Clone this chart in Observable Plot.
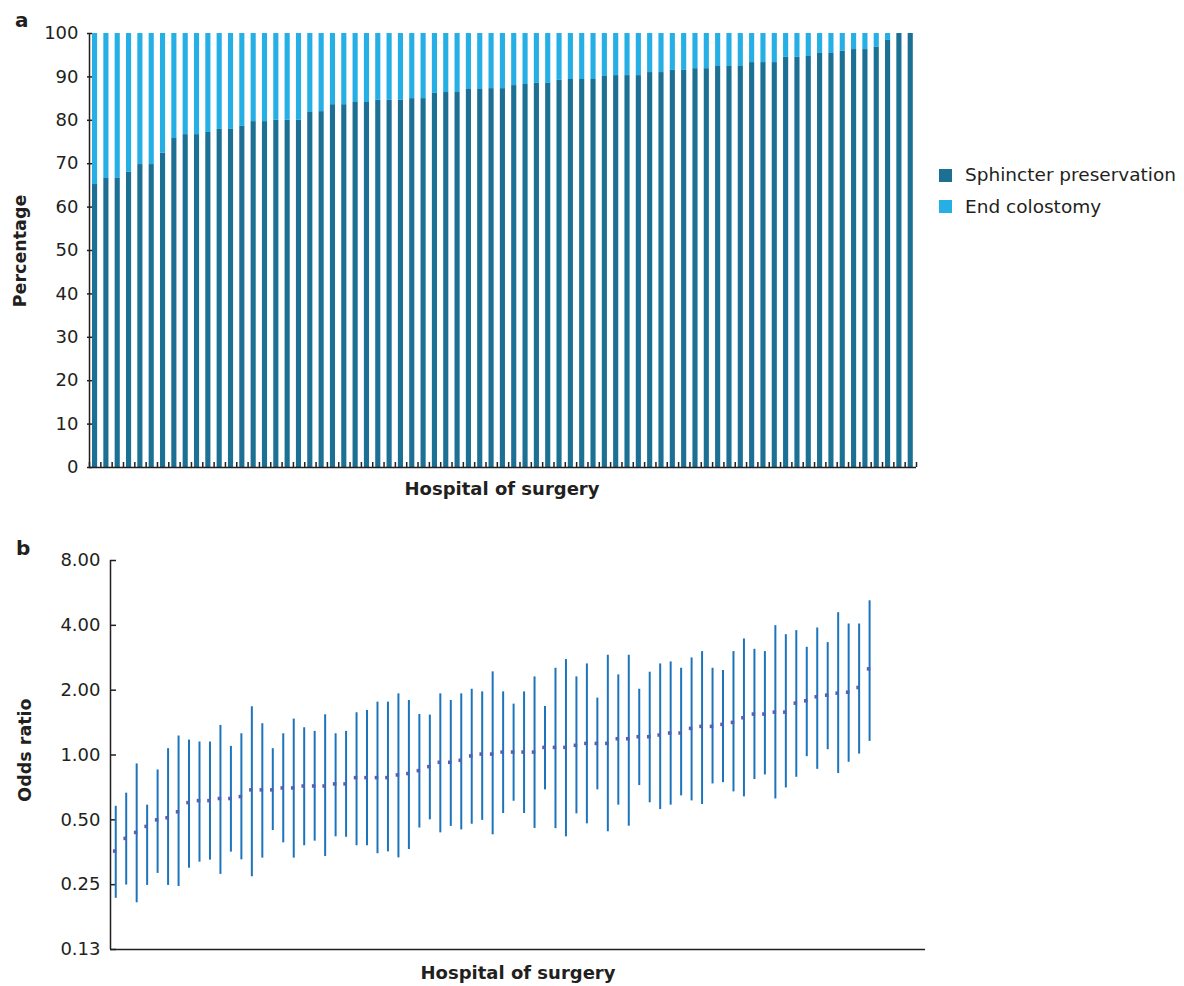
<!DOCTYPE html>
<html>
<head>
<meta charset="utf-8">
<script src="https://cdn.jsdelivr.net/npm/d3@7"></script>
<script src="https://cdn.jsdelivr.net/npm/@observablehq/plot@0.6"></script>
<style>
  body { margin: 0; background: #fff; }
  #wrap { position: relative; width: 1184px; height: 986px; font-family: "DejaVu Sans", sans-serif; color: #231f20; }
  #panelA, #panelB { position: absolute; left: 0; }
  #panelA { top: 0; }
  #panelB { top: 540px; }
  #overlay { position: absolute; left: 0; top: 0; pointer-events: none; }
  #overlay text { font-family: "DejaVu Sans", sans-serif; fill: #231f20; }
</style>
</head>
<body>
<div id="wrap">
  <div id="panelA"></div>
  <div id="panelB"></div>
  <svg id="overlay" width="1184" height="986">
    <text x="15" y="27" font-size="20" font-weight="bold">a</text>
    <text transform="translate(26,251) rotate(-90)" text-anchor="middle" font-size="17.5" font-weight="bold">Percentage</text>
    <text x="502" y="495" text-anchor="middle" font-size="18" font-weight="bold">Hospital of surgery</text>
    <rect x="939" y="169" width="13" height="13" fill="#1b7094"></rect>
    <text x="965" y="181" font-size="18.5">Sphincter preservation</text>
    <rect x="939" y="200" width="13" height="13" fill="#25afe4"></rect>
    <text x="965" y="213" font-size="18.5">End colostomy</text>
    <text x="16" y="555" font-size="20" font-weight="bold">b</text>
    <text transform="translate(31,750) rotate(-90)" text-anchor="middle" font-size="17.5" font-weight="bold">Odds ratio</text>
    <text x="518" y="979" text-anchor="middle" font-size="18" font-weight="bold">Hospital of surgery</text>
  </svg>
</div>
<script>
// ---------- Panel a data: percentage of each operation type per hospital ----------
const sphincter = [65.2, 66.6, 66.6, 68.0, 69.8, 69.8, 72.4, 75.8, 76.7, 76.7,
  77.2, 77.9, 77.9, 78.6, 79.7, 79.7, 80.0, 80.0, 80.0, 81.8,
  82.0, 83.6, 83.6, 84.1, 84.1, 84.6, 84.6, 84.6, 85.0, 85.0,
  86.2, 86.4, 86.4, 87.1, 87.1, 87.3, 87.3, 88.0, 88.25, 88.5,
  88.5, 89.2, 89.4, 89.4, 89.4, 90.1, 90.3, 90.3, 90.3, 91.0,
  91.0, 91.5, 91.5, 91.9, 91.9, 92.4, 92.4, 92.4, 93.3, 93.3,
  93.3, 94.5, 94.5, 94.7, 95.4, 95.4, 95.9, 96.3, 96.3, 96.8,
  98.4, 100, 100];
const colostomy = [34.8, 33.4, 33.4, 32.0, 30.2, 30.2, 27.6, 24.2, 23.3, 23.3,
  22.8, 22.1, 22.1, 21.4, 20.3, 20.3, 20.0, 20.0, 20.0, 18.2,
  18.0, 16.4, 16.4, 15.9, 15.9, 15.4, 15.4, 15.4, 15.0, 15.0,
  13.8, 13.6, 13.6, 12.9, 12.9, 12.7, 12.7, 12.0, 11.75, 11.5,
  11.5, 10.8, 10.6, 10.6, 10.6, 9.9, 9.7, 9.7, 9.7, 9.0,
  9.0, 8.5, 8.5, 8.1, 8.1, 7.6, 7.6, 7.6, 6.7, 6.7,
  6.7, 5.5, 5.5, 5.3, 4.6, 4.6, 4.1, 3.7, 3.7, 3.2,
  1.6, 0, 0];
const seriesNames = ["Sphincter preservation", "End colostomy"];
const yTicksA = [0, 10, 20, 30, 40, 50, 60, 70, 80, 90, 100];

// ---------- Panel b data: odds ratio with 95% CI per hospital ----------
const orMid = [0.358, 0.41, 0.437, 0.466, 0.5, 0.511, 0.545, 0.601, 0.614, 0.614,
  0.628, 0.628, 0.641, 0.689, 0.689, 0.689, 0.703, 0.703, 0.718, 0.718,
  0.718, 0.734, 0.734, 0.785, 0.785, 0.785, 0.785, 0.808, 0.82, 0.846,
  0.883, 0.925, 0.925, 0.945, 0.99, 1.01, 1.01, 1.032, 1.032, 1.032,
  1.032, 1.085, 1.085, 1.085, 1.109, 1.132, 1.132, 1.132, 1.19, 1.19,
  1.216, 1.216, 1.238, 1.265, 1.265, 1.329, 1.358, 1.358, 1.387, 1.417,
  1.489, 1.549, 1.549, 1.582, 1.582, 1.741, 1.785, 1.863, 1.896, 1.937,
  1.957, 2.058, 2.511];
const orLow = [0.216, 0.249, 0.206, 0.248, 0.282, 0.248, 0.245, 0.298, 0.318, 0.325,
  0.279, 0.354, 0.326, 0.272, 0.332, 0.446, 0.391, 0.332, 0.379, 0.398,
  0.338, 0.417, 0.415, 0.379, 0.379, 0.348, 0.355, 0.333, 0.364, 0.458,
  0.5, 0.435, 0.466, 0.449, 0.477, 0.497, 0.426, 0.535, 0.61, 0.535,
  0.456, 0.689, 0.455, 0.417, 0.533, 0.479, 0.689, 0.44, 0.585, 0.467,
  0.721, 0.6, 0.558, 0.585, 0.646, 0.612, 0.589, 0.734, 0.744, 0.674,
  0.639, 0.769, 0.808, 0.625, 0.703, 0.788, 0.982, 0.858, 1.058, 0.82,
  0.925, 1.01, 1.157];
const orHigh = [0.578, 0.665, 0.909, 0.585, 0.852, 1.07, 1.225, 1.173, 1.149, 1.149,
  1.372, 1.097, 1.255, 1.675, 1.397, 1.07, 1.255, 1.468, 1.338, 1.287,
  1.537, 1.255, 1.287, 1.571, 1.61, 1.76, 1.76, 1.923, 1.791, 1.543,
  1.532, 1.923, 1.791, 1.923, 2.02, 1.964, 2.432, 1.964, 1.723, 1.964,
  2.305, 1.68, 2.528, 2.774, 2.305, 2.648, 1.837, 2.905, 2.355, 2.905,
  2.02, 2.423, 2.648, 2.705, 2.528, 2.823, 3.021, 2.528, 2.467, 3.021,
  3.458, 3.097, 3.021, 3.987, 3.62, 3.78, 3.164, 3.888, 3.325, 4.58,
  4.058, 4.058, 5.2];
const yTicksB = [0.125, 0.25, 0.5, 1, 2, 4, 8];
const yTickLabelsB = ["0.13", "0.25", "0.50", "1.00", "2.00", "4.00", "8.00"];

// ---------- styles ----------
const darkBlue = "#1b7094";
const lightBlue = "#25afe4";
const ciBlue = "#1c75bc";
const dotBlue = "#5560b4";
const ink = "#231f20";

// ---------- Panel a ----------
const hospA = sphincter.map((p, i) => ({i, sphincter: p, colostomy: colostomy[i]}));
const boundaries = d3.range(0, hospA.length + 1);

const plotA = Plot.plot({
  width: 930,
  height: 500,
  marginTop: 33,
  marginBottom: 33,
  marginLeft: 89,
  marginRight: 14,
  style: {fontFamily: "DejaVu Sans, sans-serif", fontSize: "18px", color: ink, background: "transparent", overflow: "visible"},
  x: {type: "linear", domain: [0, hospA.length]},
  y: {domain: [0, 100]},
  marks: [
    Plot.rectY(hospA, {x1: d => d.i, x2: d => d.i + 1, y1: 0, y2: d => d.sphincter,
      fill: darkBlue, insetLeft: 3, insetRight: 3.2, title: () => seriesNames[0]}),
    Plot.rectY(hospA, {x1: d => d.i, x2: d => d.i + 1, y1: d => d.sphincter, y2: d => d.sphincter + d.colostomy,
      fill: lightBlue, insetLeft: 3, insetRight: 3.2, title: () => seriesNames[1]}),
    Plot.axisY(yTicksA, {tickSize: 0, tickPadding: 11, label: null, fill: ink}),
    Plot.axisY(yTicksA, {tickSize: 5, dx: 3, tickFormat: () => "", label: null, stroke: ink, strokeWidth: 1.5}),
    Plot.axisX(boundaries, {tickSize: 5, dy: -5, tickFormat: () => "", label: null, stroke: ink, strokeWidth: 1.5}),
    Plot.ruleX([0], {stroke: ink, strokeWidth: 1.5}),
    Plot.ruleY([0], {stroke: ink, strokeWidth: 1.5})
  ]
});
document.getElementById("panelA").appendChild(plotA);

// ---------- Panel b ----------
const hospB = orMid.map((m, i) => ({i, mid: m, low: orLow[i], high: orHigh[i]}));

const plotB = Plot.plot({
  width: 940,
  height: 430,
  marginTop: 20,
  marginBottom: 21,
  marginLeft: 110,
  marginRight: 15,
  style: {fontFamily: "DejaVu Sans, sans-serif", fontSize: "18px", color: ink, background: "transparent", overflow: "visible"},
  x: {type: "linear", domain: [-0.5, 77.34], axis: null},
  y: {type: "log", base: 2, domain: [0.125, 8]},
  marks: [
    Plot.axisY(yTicksB, {tickSize: 0, tickPadding: 10, label: null, fill: ink,
      tickFormat: d => yTickLabelsB[yTicksB.indexOf(d)]}),
    Plot.axisY(yTicksB, {tickSize: 6, dx: 6, tickFormat: () => "", label: null, stroke: ink, strokeWidth: 1.5}),
    Plot.ruleX(hospB, {x: "i", y1: "low", y2: "high", stroke: ciBlue, strokeWidth: 2}),
    Plot.dot(hospB, {x: "i", y: "mid", symbol: "square", r: 2, dx: -1, fill: dotBlue, stroke: "none"}),
    Plot.ruleX([-0.5], {stroke: ink, strokeWidth: 1.5}),
    Plot.ruleY([0.125], {stroke: ink, strokeWidth: 1.5})
  ]
});
document.getElementById("panelB").appendChild(plotB);
</script>
</body>
</html>
